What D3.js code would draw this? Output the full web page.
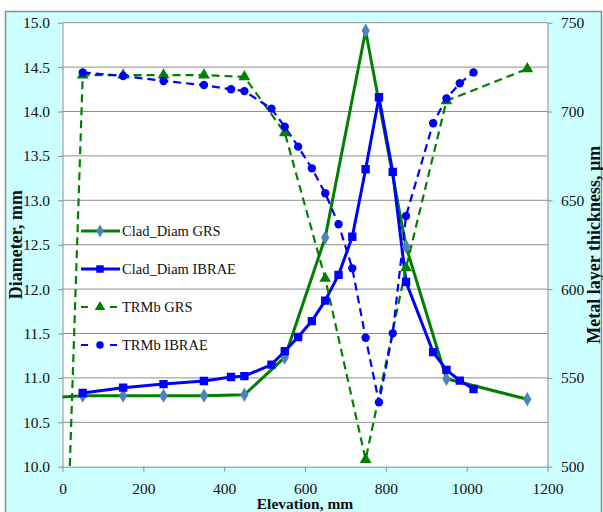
<!DOCTYPE html>
<html><head><meta charset="utf-8">
<script src="https://cdn.jsdelivr.net/npm/d3@7"></script>
<style>
body{margin:0;background:#fff}
svg{display:block}
</style>
</head><body><script>
// ---- data ----
const elevCladGRS = [-50, 50, 150, 250, 350, 450, 550, 650, 750, 850, 950, 1150];
const cladGRS     = [10.77, 10.80, 10.80, 10.80, 10.80, 10.81, 11.23, 12.58, 14.91, 12.48, 10.99, 10.76];

const elevIBRAE = [50, 150, 250, 350, 417, 450, 517, 550, 583, 617, 650, 683, 717, 750, 783, 817, 850, 917, 950, 983, 1017];
const cladIBRAE = [10.83, 10.89, 10.93, 10.965, 11.01, 11.02, 11.15, 11.30, 11.46, 11.64, 11.87, 12.16, 12.59, 13.35, 14.16, 13.32, 12.08, 11.29, 11.09, 10.97, 10.875];
const trmbIBRAE = [722, 720, 717.2, 714.9, 712.5, 711.5, 701.6, 691.4, 680.2, 668, 654, 636.5, 611.7, 572.6, 536.3, 575.1, 641.2, 693.4, 707.4, 715.9, 722];

const elevTrmbGRS = [0, 50, 150, 250, 350, 450, 550, 650, 750, 850, 950, 1150];
const trmbGRS     = [376, 720.5, 720.5, 720.5, 720.5, 719.5, 688, 606, 504, 612, 706, 724];

const xTicks = [0, 200, 400, 600, 800, 1000, 1200];
const yLeftTicks = [10.0, 10.5, 11.0, 11.5, 12.0, 12.5, 13.0, 13.5, 14.0, 14.5, 15.0];
const yRightTicks = [500, 550, 600, 650, 700, 750];
const seriesNames = ["Clad_Diam GRS", "Clad_Diam IBRAE", "TRMb GRS", "TRMb IBRAE"];
const xTitle = "Elevation, mm";
const yLeftTitle = "Diameter, mm";
const yRightTitle = "Metal layer thickness, µm";

// ---- layout ----
const FONT = "Liberation Serif, Times New Roman, serif";
const W = 603, H = 512;
const pl = 62.5, pr = 547.5, pt = 22.7, pb = 466.7;
const x = d3.scaleLinear().domain([0, 1200]).range([pl, pr]);
const yL = d3.scaleLinear().domain([10, 15]).range([pb, pt]);
const yR = d3.scaleLinear().domain([500, 750]).range([pb, pt]);

const svg = d3.select("body").append("svg").attr("width", W).attr("height", H)
  .attr("font-family", FONT);
svg.append("rect").attr("x", 5.5).attr("y", 11.5).attr("width", 596).attr("height", 510)
  .attr("fill", "#ccffff").attr("stroke", "#8c8c8c").attr("stroke-width", 1.5);
svg.append("rect").attr("x", pl).attr("y", pt).attr("width", pr - pl).attr("height", pb - pt).attr("fill", "#fff");

const defs = svg.append("defs");
defs.append("clipPath").attr("id", "clipL").append("rect")
  .attr("x", pl).attr("y", pt).attr("width", pr - pl).attr("height", pb - pt);
defs.append("clipPath").attr("id", "clipM").append("rect")
  .attr("x", pl - 8).attr("y", pt - 8).attr("width", pr - pl + 16).attr("height", pb - pt + 16);

// gridlines
svg.append("g").selectAll("line").data(yLeftTicks.filter(d => d > 10)).join("line")
  .attr("x1", pl).attr("x2", pr).attr("y1", d => yL(d)).attr("y2", d => yL(d))
  .attr("stroke", "#8f8f8f").attr("stroke-width", 1);

// axes
const axColor = "#8f8f8f";
function styleAxis(g) {
  g.attr("font-family", FONT).attr("font-size", 15.5);
  g.selectAll(".domain").attr("stroke", axColor).attr("stroke-width", 1);
  g.selectAll(".tick line").attr("stroke", axColor);
  g.selectAll(".tick text").attr("font-family", FONT).attr("font-size", 15.5).attr("fill", "#111");
}
svg.append("g").attr("transform", `translate(0,${pb})`)
  .call(d3.axisBottom(x).tickValues(xTicks).tickFormat(d3.format("d")).tickSize(5).tickSizeOuter(0).tickPadding(11))
  .call(styleAxis);
svg.append("g").attr("transform", `translate(${pl},0)`)
  .call(d3.axisLeft(yL).tickValues(yLeftTicks).tickFormat(d3.format(".1f")).tickSize(4.5).tickSizeOuter(0).tickPadding(8))
  .call(styleAxis);
svg.append("g").attr("transform", `translate(${pr},0)`)
  .call(d3.axisRight(yR).tickValues(yRightTicks).tickFormat(d3.format("d")).tickSize(5).tickSizeOuter(0).tickPadding(8.5))
  .call(styleAxis);

// titles
svg.append("text").attr("x", (pl + pr) / 2).attr("y", 509).attr("text-anchor", "middle")
  .attr("font-family", FONT).attr("font-weight", "bold").attr("font-size", 15.5).attr("fill", "#111").text(xTitle);
svg.append("text").attr("transform", `translate(22,${(pt + pb) / 2}) rotate(-90)`).attr("text-anchor", "middle")
  .attr("font-family", FONT).attr("font-weight", "bold").attr("font-size", 18).attr("fill", "#111").text(yLeftTitle);
svg.append("text").attr("transform", `translate(600,${(pt + pb) / 2}) rotate(-90)`).attr("text-anchor", "middle")
  .attr("font-family", FONT).attr("font-weight", "bold").attr("font-size", 18).attr("fill", "#111").text(yRightTitle);

// series
const GREEN = "#008000", BLUE = "#0000ff", STEEL = "#4f81bd";
const series = [
  {xs: elevCladGRS, ys: cladGRS, sc: yL, color: GREEN, dash: null, w: 3, sym: d3.symbolDiamond, size: 60, mcol: STEEL},
  {xs: elevIBRAE, ys: cladIBRAE, sc: yL, color: BLUE, dash: null, w: 3, sym: d3.symbolSquare, size: 70, mcol: BLUE},
  {xs: elevTrmbGRS, ys: trmbGRS, sc: yR, color: GREEN, dash: "8,5", w: 2.2, sym: d3.symbolTriangle, size: 60, mcol: GREEN},
  {xs: elevIBRAE, ys: trmbIBRAE, sc: yR, color: BLUE, dash: "8,5", w: 2.2, sym: d3.symbolCircle, size: 55, mcol: BLUE}
];
const lineG = svg.append("g").attr("clip-path", "url(#clipL)");
const markG = svg.append("g").attr("clip-path", "url(#clipM)");
series.forEach(s => {
  const pts = s.xs.map((e, i) => [e, s.ys[i]]);
  const line = d3.line().x(d => x(d[0])).y(d => s.sc(d[1]));
  lineG.append("path").datum(pts).attr("d", line).attr("fill", "none")
    .attr("stroke", s.color).attr("stroke-width", s.w).attr("stroke-dasharray", s.dash)
    .attr("stroke-linejoin", "round");
  markG.append("g").selectAll("path").data(pts).join("path")
    .attr("transform", d => `translate(${x(d[0])},${s.sc(d[1])})`)
    .attr("d", d3.symbol().type(s.sym).size(s.size)).attr("fill", s.mcol);
});

// legend
const lg = svg.append("g");
const legY0 = 231, legStep = 38;
series.forEach((s, i) => {
  const yy = legY0 + i * legStep;
  if (s.dash) {
    lg.append("line").attr("x1", 81).attr("x2", 118).attr("y1", yy).attr("y2", yy)
      .attr("stroke", s.color).attr("stroke-width", s.w).attr("stroke-dasharray", "7,22,7");
  } else {
    lg.append("line").attr("x1", 81).attr("x2", 120).attr("y1", yy).attr("y2", yy)
      .attr("stroke", s.color).attr("stroke-width", s.w);
  }
  lg.append("path").attr("transform", `translate(100,${yy})`)
    .attr("d", d3.symbol().type(s.sym).size(s.size * 0.8)).attr("fill", s.mcol);
  lg.append("text").attr("x", 122).attr("y", yy).attr("dy", "0.35em")
    .attr("font-family", FONT).attr("font-size", 14.5).attr("fill", "#111").text(seriesNames[i]);
});
</script></body></html>
